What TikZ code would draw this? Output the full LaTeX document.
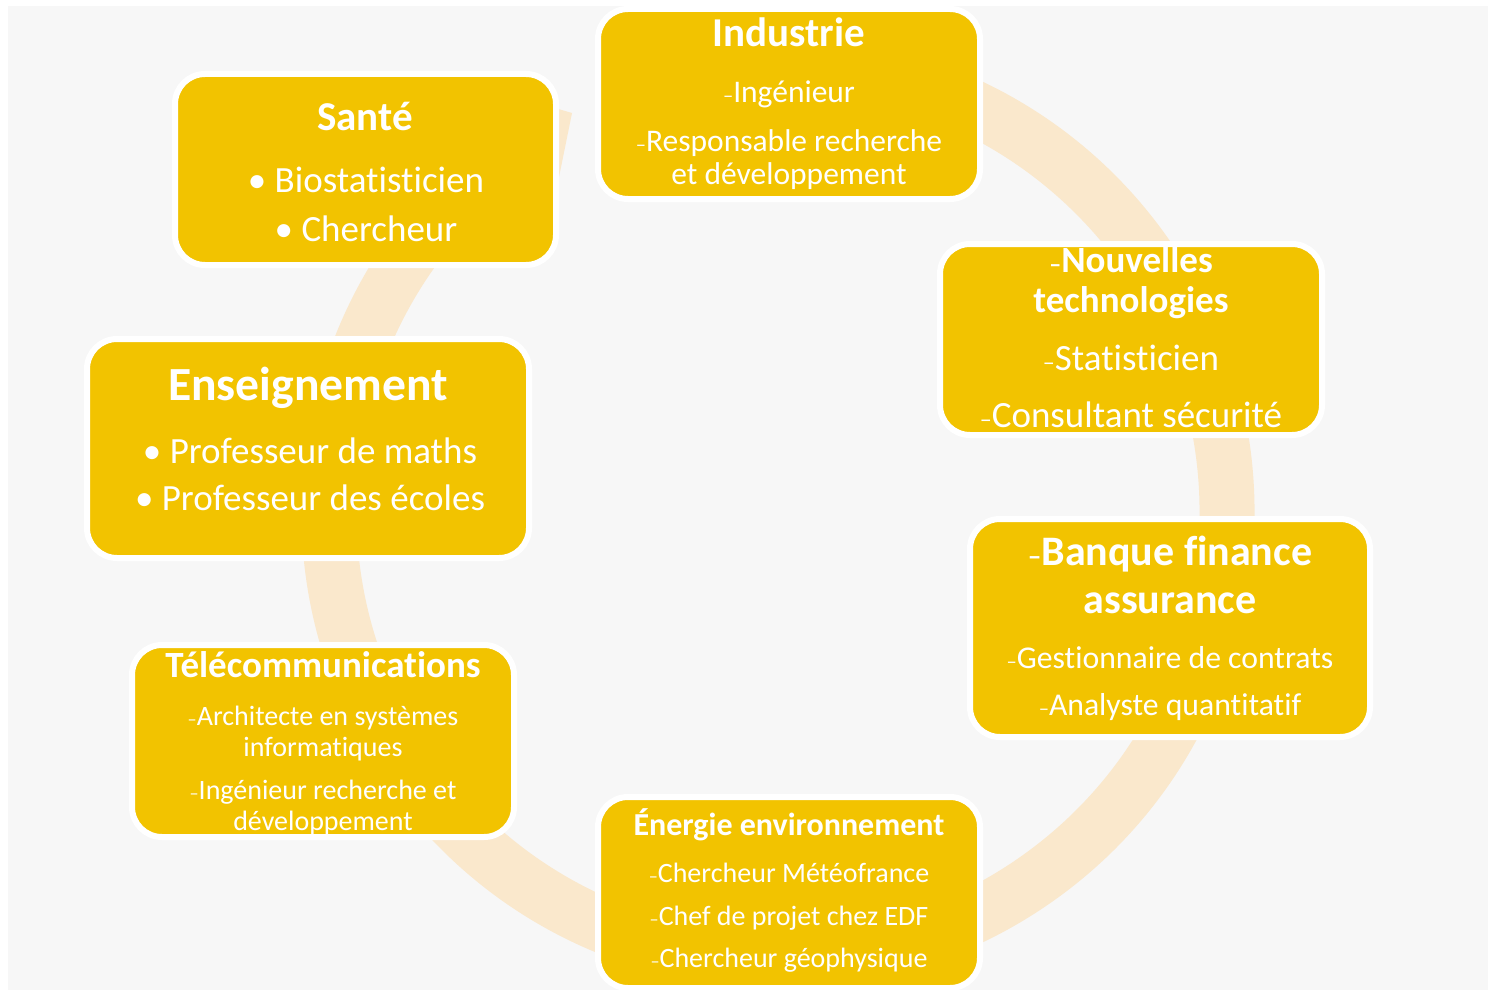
\documentclass[tikz,border=0pt]{standalone}
\usepackage{fontspec}
\setmainfont{Carlito}[Ligatures={NoCommon,NoRequired,NoContextual},Contextuals=NoAlternate,RawFeature={-dlig;-hlig}]
\usepackage{graphicx}
\definecolor{jaune}{HTML}{F2C300}
\definecolor{anneau}{HTML}{FAE8CC}
\definecolor{fond}{HTML}{F7F7F7}
\newcommand{\tiret}{\scalebox{0.65}{–}}

\begin{document}
\begin{tikzpicture}[x=1pt,y=1pt,
   boite/.style={fill=jaune,draw=white,line width=6pt,rounded corners=30pt,inner sep=0pt},
   txt/.style={text=white,anchor=base,inner sep=0pt,font=\fontsize{#1}{#1}\selectfont},
   titre/.style={text=white,anchor=base,inner sep=0pt,font=\fontsize{#1}{#1}\selectfont\bfseries}]
   \useasboundingbox (0,0) rectangle (1495,-995);
   \fill[white] (0,0) rectangle (1495,-995);
   \fill[fond] (8,-6) rectangle (1488,-990);
   \draw[anneau,line width=55pt] (778,-512) ++(124:449) arc[start angle=124,end angle=460,radius=449];
   \fill[anneau] (548,-106) -- (572,-113) -- (558,-182) -- (548,-182) -- cycle;

   \node[boite,minimum width=381pt,minimum height=191pt] (sante) at (365.5,-169.5) {};
   \node[boite,minimum width=382pt,minimum height=190pt] (ind) at (789,-104) {};
   \node[boite,minimum width=382pt,minimum height=191pt] (nouv) at (1131,-339.5) {};
   \node[boite,minimum width=400pt,minimum height=218pt] (banq) at (1170,-628) {};
   \node[boite,minimum width=382pt,minimum height=191pt] (ener) at (789,-892.5) {};
   \node[boite,minimum width=382pt,minimum height=192pt] (tele) at (323,-741) {};
   \node[boite,minimum width=442pt,minimum height=219pt] (ens) at (308,-448.5) {};

   \node[titre=41] (santeT) at (365,-131) {Santé};
   \node[txt=37] (sante1) at (366,-193) {• Biostatisticien};
   \node[txt=37] (sante2) at (366,-241) {• Chercheur};

   \node[titre=41] (indT) at (789,-47) {Industrie};
   \node[txt=31.5] (ind1) at (789,-103) {\tiret Ingénieur};
   \node[txt=31.5] (ind2) at (789,-152) {\tiret Responsable recherche};
   \node[txt=31.5] (ind3) at (789,-185) {et développement};

   \node[titre=37] (nouvT) at (1131,-272) {\tiret Nouvelles};
   \node[titre=37] (nouvT2) at (1131,-312) {technologies};
   \node[txt=37] (nouv1) at (1131,-370) {\tiret Statisticien};
   \node[txt=37] (nouv2) at (1131,-427) {\tiret Consultant sécurité};

   \node[titre=42] (banqT) at (1170,-565) {\tiret Banque finance};
   \node[titre=42] (banqT2) at (1170,-613) {assurance};
   \node[txt=31.7] (banq1) at (1170,-668) {\tiret Gestionnaire de contrats};
   \node[txt=31.7] (banq2) at (1170,-715) {\tiret Analyste quantitatif};

   \node[titre=32] (enerT) at (789,-835) {Énergie environnement};
   \node[txt=28] (ener1) at (789,-882) {\tiret Chercheur Météofrance};
   \node[txt=28] (ener2) at (789,-925) {\tiret Chef de projet chez EDF};
   \node[txt=28] (ener3) at (789,-967) {\tiret Chercheur géophysique};

   \node[titre=37] (teleT) at (323,-677) {Télécommunications};
   \node[txt=28] (tele1) at (323,-725) {\tiret Architecte en systèmes};
   \node[txt=28] (tele2) at (323,-756) {informatiques};
   \node[txt=28] (tele3) at (323,-799) {\tiret Ingénieur recherche et};
   \node[txt=28] (tele4) at (323,-830) {développement};

   \node[titre=47.6] (ensT) at (308,-400) {Enseignement};
   \node[txt=37] (ens1) at (310,-463) {• Professeur de maths};
   \node[txt=37] (ens2) at (310,-510) {• Professeur des écoles};
\end{tikzpicture}
\end{document}
